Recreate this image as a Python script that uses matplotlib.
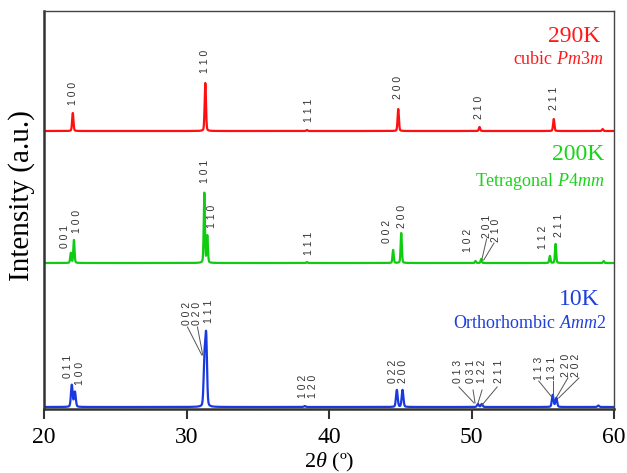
import numpy as np
import matplotlib
matplotlib.use("Agg")
import matplotlib.pyplot as plt

plt.rcParams["mathtext.fontset"] = "custom"
plt.rcParams["mathtext.it"] = "Liberation Serif:italic"
plt.rcParams["mathtext.rm"] = "Liberation Serif"

# ---------------- data ----------------
# peak positions (2theta), heights (a.u., px-like units), widths (FWHM deg)
red_pos = [22.02, 31.32, 38.45, 44.86, 50.56, 55.77, 59.2]
red_h = [18, 48, 1, 22, 4, 12, 2]
red_w = 0.11

green_pos = [21.88, 22.10, 31.25, 31.46, 38.45, 44.50, 45.07, 50.28, 50.68, 55.50, 55.90, 59.27]
green_h = [10, 23, 70, 27, 1, 13, 30, 2, 4, 7, 19, 2]
green_w = 0.10

blue_pos = [21.95, 22.17, 31.26, 31.38, 38.3, 44.76, 45.16, 50.45, 50.72, 55.70, 55.95, 58.9]
blue_h = [22, 15, 45, 68, 1, 17, 17, 3, 3, 12, 9, 1.5]
blue_w = 0.14

# vertical offsets of the three patterns
offsets = {"red": 278, "green": 146, "blue": 2}

# hkl labels: (text, 2theta, y-bottom)
red_labels = [("1 0 0", 22.04, 304), ("1 1 0", 31.27, 336), ("1 1 1", 38.6, 287),
              ("2 0 0", 44.86, 310), ("2 1 0", 50.56, 290), ("2 1 1", 55.77, 299)]
green_labels = [("0 0 1", 21.46, 161), ("1 0 0", 22.30, 176), ("1 0 1", 31.27, 226),
                ("1 1 0", 31.81, 181), ("1 1 1", 38.6, 154), ("0 0 2", 44.08, 166),
                ("2 0 0", 45.14, 181), ("1 0 2", 49.72, 157), ("2 0 1", 51.06, 171),
                ("2 1 0", 51.69, 167), ("1 1 2", 55.0, 160), ("2 1 1", 56.13, 172)]
blue_labels = [("0 1 1", 21.69, 31), ("1 0 0", 22.54, 24), ("0 0 2", 30.07, 84),
               ("0 2 0", 30.77, 84), ("1 1 1", 31.55, 86), ("1 0 2", 38.17, 11),
               ("1 2 0", 38.87, 11), ("0 2 2", 44.51, 26), ("2 0 0", 45.21, 26),
               ("0 1 3", 49.08, 26), ("0 3 1", 50.0, 26), ("1 2 2", 50.77, 26),
               ("2 1 1", 51.9, 26), ("1 1 3", 54.72, 29), ("1 3 1", 55.63, 29),
               ("2 2 0", 56.62, 32), ("2 0 2", 57.32, 32)]

# leader lines ((x0, y0), (x1, y1)) in (2theta, y)
leaders = [((51.06, 170), (50.72, 149)), ((51.58, 166), (50.86, 149)),
           ((30.07, 82), (31.07, 54)), ((30.77, 82), (31.14, 54)),
           ((49.12, 22), (50.18, 6)), ((50.11, 19), (50.25, 6)),
           ((50.74, 19), (50.46, 6)), ((51.8, 22), (50.74, 4)),
           ((54.72, 28), (55.63, 12)), ((55.7, 28), (55.7, 12)),
           ((56.76, 31), (55.98, 12)), ((57.54, 31), (56.12, 11))]

titles = [("290K", "cubic ", "Pm3m", "", 600, 604, 37, 59, "red"),
          ("200K", "Tetragonal ", "P4mm", "", 604, 605, 155, 181, "green"),
          ("10K", "Orthorhombic ", "Amm", "2", 600, 606, 299, 323, "blue")]

colors = {"red": "#ff1010", "green": "#10cc10", "blue": "#1a3ae0"}
text_colors = {"red": "#ff1a1a", "green": "#19d419", "blue": "#1f40dc"}

xticks = [20, 30, 40, 50, 60]

# ---------------- figure ----------------
serif = ["Liberation Serif", "DejaVu Serif"]
fig = plt.figure(figsize=(6.27, 4.73), dpi=100)
ax = fig.add_axes([44 / 627, 1 - 409 / 473, (614 - 44) / 627, (409 - 11) / 473])

x = np.linspace(20, 60, 8001)


def profile(pos, h, w):
    y = np.zeros_like(x)
    for p, a in zip(pos, h):
        g = np.exp(-4 * np.log(2) * ((x - p) / w) ** 2)
        l = 1 / (1 + 4 * ((x - p) / w) ** 2)
        y += a * (0.75 * g + 0.25 * l)
    return y


for key, pos, h, w in [("red", red_pos, red_h, red_w), ("green", green_pos, green_h, green_w),
                       ("blue", blue_pos, blue_h, blue_w)]:
    ax.plot(x, profile(pos, h, w) + offsets[key], color=colors[key], lw=1.6)

for labels in (red_labels, green_labels, blue_labels):
    for t, xx, yy in labels:
        ax.text(xx, yy, t, rotation=90, ha="center", va="bottom", fontsize=7.5,
                family=["Liberation Sans", "DejaVu Sans"], color="#333333")

for (x0, y0), (x1, y1) in leaders:
    ax.plot([x0, x1], [y0, y1], color="#555555", lw=0.7)

for big, small, ital, tail, px1, px2, py1, py2, key in titles:
    fig.text(px1 / 627, 1 - py1 / 473, big, ha="right", va="center", fontsize=17,
             family=serif, color=text_colors[key])
    fig.text(px2 / 627, 1 - py2 / 473,
             small + r"$\mathit{" + ital + "}$" + tail, ha="right", va="center", fontsize=13,
             family=serif, color=text_colors[key])

ax.set_xlim(20, 60)
ax.set_ylim(0, 398)
ax.set_yticks([])
ax.set_xticks(xticks)
ax.set_xticklabels([str(v) for v in xticks], family=serif, fontsize=17)
ax.tick_params(axis="x", direction="out", length=7, width=1.5, color="#333333", pad=6)
for s in ["left", "bottom"]:
    ax.spines[s].set_linewidth(1.8)
    ax.spines[s].set_color("#333333")
for s in ["top", "right"]:
    ax.spines[s].set_linewidth(1.0)
    ax.spines[s].set_color("#444444")

ax.set_xlabel(r"2$\mathit{\theta}$ (º)", family=serif, fontsize=16)
ax.xaxis.set_label_coords(0.5, (409 - 462) / 398, transform=ax.transAxes)
ax.xaxis.label.set_va("center")
ax.set_ylabel("Intensity (a.u.)", family=serif, fontsize=21)
ax.yaxis.set_label_coords((22 - 44) / 570, (409 - 196) / 398, transform=ax.transAxes)
ax.yaxis.label.set_va("center")

fig.savefig("out.png", dpi=100)
